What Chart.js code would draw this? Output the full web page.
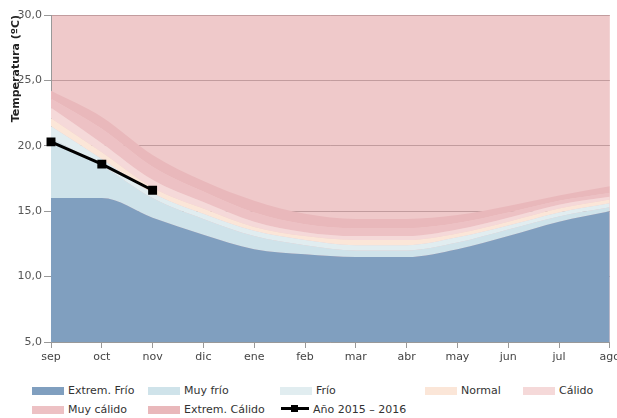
<!DOCTYPE html>
<html>
<head>
<meta charset="utf-8">
<script src="https://cdn.jsdelivr.net/npm/chart.js@4"></script>
<style>
  html, body { margin: 0; padding: 0; background: #fff; }
  #wrap { position: relative; width: 617px; height: 418px; }
  #legend {
    position: absolute; left: 32px; top: 381px;
    display: grid; grid-template-columns: 116px 132px 145px 98px auto;
    font: 11px "DejaVu Sans", sans-serif; color: #333; line-height: 19px;
  }
  #legend .item { white-space: nowrap; }
  #legend .box { display: inline-block; width: 32px; height: 8px; margin-right: 4px; vertical-align: -1px; }
  #legend .line { display: inline-block; position: relative; width: 28px; height: 3px; background: #000;
    margin: 0 4px 0 1px; vertical-align: 3px; }
  #legend .line i { position: absolute; left: 10px; top: -2px; width: 7px; height: 7px; background: #000; }
</style>
</head>
<body>
<div id="wrap">
  <canvas id="chart" width="617" height="372"></canvas>
  <div id="legend"></div>
</div>
<script>
// months sep 2015 - ago 2016
var months = ['sep', 'oct', 'nov', 'dic', 'ene', 'feb', 'mar', 'abr', 'may', 'jun', 'jul', 'ago'];

// upper limit of each band (ºC)
var extFrio   = [16.0, 16.0, 14.5, 13.2, 12.1, 11.7, 11.5, 11.5, 12.1, 13.1, 14.2, 15.0];
var muyFrio   = [20.6, 18.5, 16.0, 14.4, 13.1, 12.4, 12.0, 12.0, 12.6, 13.6, 14.6, 15.3];
var frio      = [21.5, 19.0, 16.4, 14.8, 13.5, 12.8, 12.4, 12.4, 13.0, 13.9, 14.9, 15.6];
var normal    = [22.1, 19.5, 16.8, 15.2, 13.8, 13.1, 12.8, 12.8, 13.3, 14.2, 15.2, 15.9];
var calido    = [22.9, 20.2, 17.4, 15.7, 14.2, 13.4, 13.1, 13.1, 13.6, 14.5, 15.5, 16.1];
var muyCalido = [23.6, 21.3, 18.4, 16.5, 14.9, 14.0, 13.7, 13.7, 14.1, 14.9, 15.8, 16.4];
var extCalido = [24.2, 22.2, 19.3, 17.3, 15.8, 14.8, 14.4, 14.4, 14.7, 15.4, 16.2, 16.9];

// observed monthly temperature
var anio = [20.3, 18.6, 16.6, null, null, null, null, null, null, null, null, null];

var yTicks = [5, 10, 15, 20, 25, 30];

function band(label, data, color, fill) {
  return {
    label: label, data: data, backgroundColor: color, borderColor: 'rgba(0,0,0,0)',
    borderWidth: 0, pointRadius: 0, fill: fill, cubicInterpolationMode: 'monotone'
  };
}

// pink plot background, drawn under the grid
var areaBg = {
  id: 'areaBg',
  beforeDraw: function(chart) {
    var a = chart.chartArea, ctx = chart.ctx;
    ctx.save();
    ctx.fillStyle = '#efc9ca';
    ctx.fillRect(a.left, a.top, a.right - a.left, a.bottom - a.top);
    ctx.restore();
  }
};

var ctx = document.getElementById('chart').getContext('2d');
var chart = new Chart(ctx, {
  type: 'line',
  data: {
    labels: months,
    datasets: [
      band('Extrem. Frío', extFrio, '#809fbf', 'start'),
      band('Muy frío', muyFrio, '#cfe3ea', '-1'),
      band('Frío', frio, '#e1edf0', '-1'),
      band('Normal', normal, '#fbe6d8', '-1'),
      band('Cálido', calido, '#f5d9d9', '-1'),
      band('Muy cálido', muyCalido, '#edc1c4', '-1'),
      band('Extrem. Cálido', extCalido, '#e9b8bb', '-1'),
      {
        label: 'Año 2015 – 2016', data: anio, borderColor: '#000', backgroundColor: '#000',
        borderWidth: 3, pointStyle: 'rect', pointRadius: 4.2, fill: false, tension: 0, order: -1
      }
    ]
  },
  options: {
    responsive: false,
    animation: false,
    layout: { padding: { left: 10, top: 15, right: 7, bottom: 0 } },
    plugins: { legend: { display: false }, tooltip: { enabled: false } },
    scales: {
      x: {
        offset: false,
        grid: { drawOnChartArea: false, tickLength: 6, color: '#999' },
        border: { color: '#999' },
        ticks: { color: '#444', font: { family: 'DejaVu Sans', size: 11 }, padding: 3, maxRotation: 0, autoSkip: false },
        afterFit: function(s) { s.paddingRight = 0; s.paddingLeft = 0; s.height = 30; }
      },
      y: {
        min: 5, max: 30,
        afterBuildTicks: function(s) { s.ticks = yTicks.map(function(v) { return { value: v }; }); },
        grid: { color: '#c29c9e', tickLength: 7, tickColor: '#999' },
        border: { color: '#999' },
        ticks: {
          color: '#555', font: { family: 'DejaVu Sans', size: 11 }, padding: 2,
          callback: function(v) { return v.toFixed(1).replace('.', ','); }
        },
        title: {
          display: true, text: 'Temperatura (ºC)', align: 'end', color: '#222',
          font: { family: 'DejaVu Sans', size: 11, weight: 'bold' },
          padding: { top: 0, bottom: 0 }
        },
        afterFit: function(s) { s.width = 41; }
      }
    }
  },
  plugins: [areaBg]
});

// html legend built from the chart's datasets
var legend = document.getElementById('legend');
chart.data.datasets.forEach(function(ds) {
  var item = document.createElement('span');
  item.className = 'item';
  var mark = document.createElement('span');
  if (ds.fill === false) {
    mark.className = 'line';
    mark.appendChild(document.createElement('i'));
  } else {
    mark.className = 'box';
    mark.style.background = ds.backgroundColor;
  }
  item.appendChild(mark);
  item.appendChild(document.createTextNode(ds.label));
  legend.appendChild(item);
});
</script>
</body>
</html>
